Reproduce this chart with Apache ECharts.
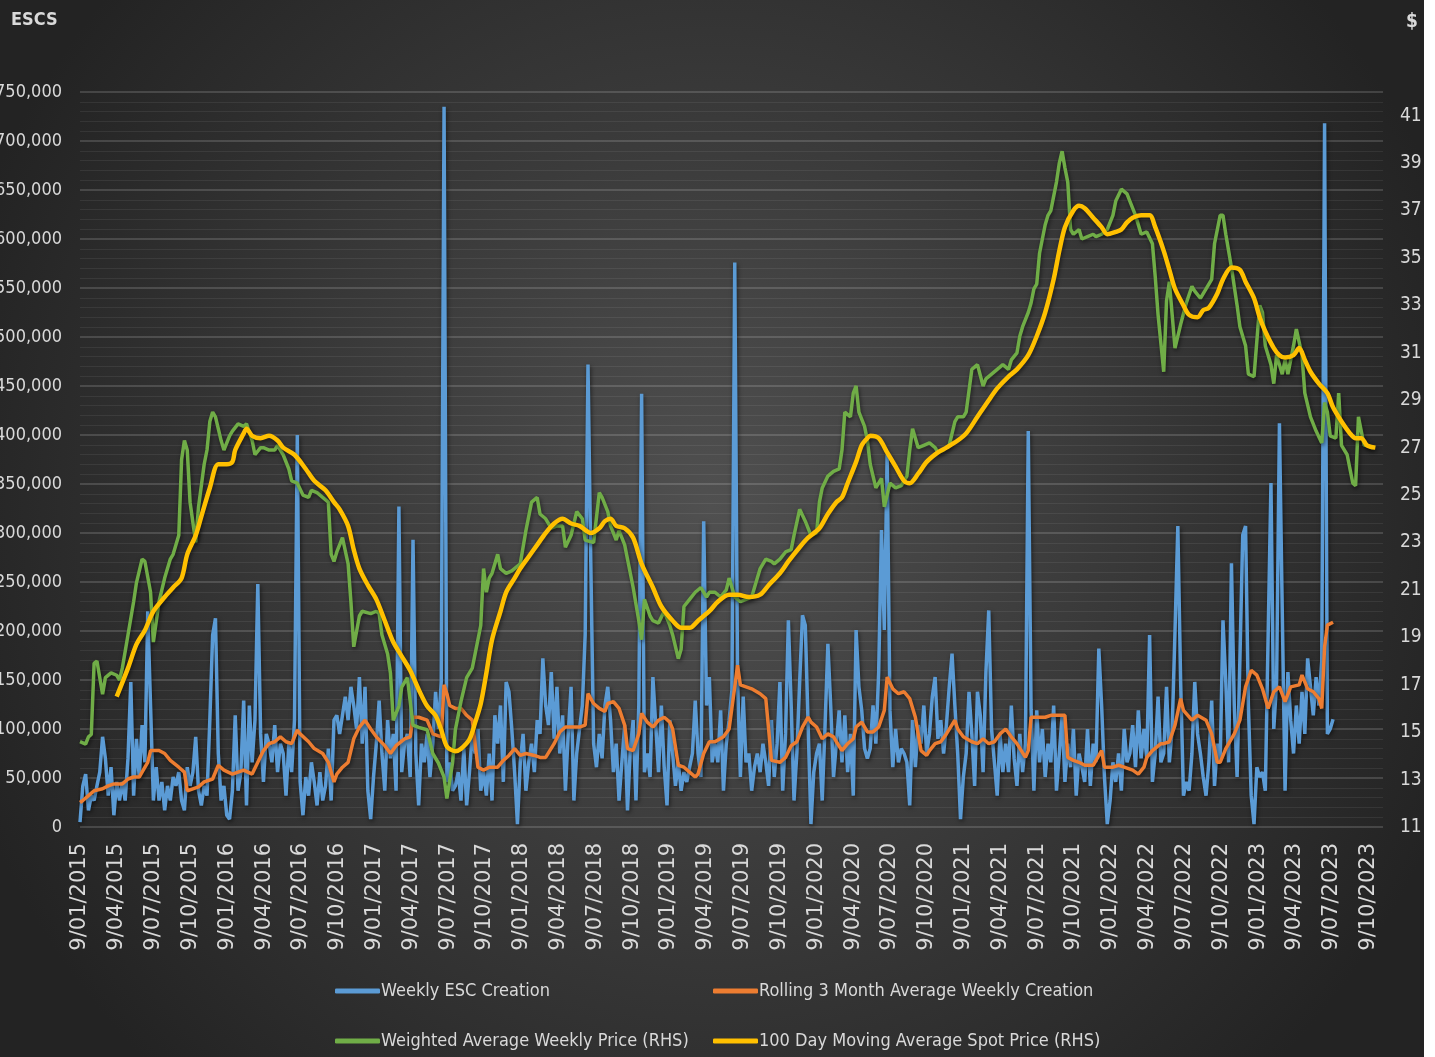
<!DOCTYPE html>
<html>
<head>
<meta charset="UTF-8">
<title>ESC creation and price</title>
<script src="https://cdn.jsdelivr.net/npm/echarts@6/dist/echarts.min.js"></script>
<style type="text/css">
  * {margin: 0; padding: 0;}
  body {background: #ffffff;}
  #chart {width: 1424px; height: 1057px;}
</style>
</head>
<body>
<div id="chart"></div>
<script type="text/javascript">
// week index 0 = 9/01/2015, one step per week
var weeksPerQuarter = 13.0446;

// Weekly ESC Creation, thousands, one value per week from week 0
var weeklyCreation = [
  5,42,54,17,32,27,42,56,92,70, 32,61,12,46,27,46,27,70,148,32,
  90,51,104,66,220,124,27,61,27,46, 17,42,27,51,42,56,27,17,61,42,
  56,92,37,22,42,32,109,196,213,75, 27,42,12,8,37,114,37,56,129,22,
  124,66,109,248,95,46,95,85,66,104, 56,85,75,32,85,56,109,400,46,12,
  51,32,66,46,22,56,27,42,80,27, 109,114,95,114,133,109,143,124,100,153,
  85,143,37,8,51,85,129,75,37,109, 70,95,37,327,56,85,95,51,293,75,
  22,85,66,95,51,85,138,100,148,735, 46,66,37,42,56,27,80,22,56,95,
  75,100,37,56,32,75,27,114,85,124, 46,148,138,100,56,3,66,95,37,66,
  85,56,109,95,172,124,104,158,90,143, 75,114,37,95,143,27,75,100,124,196,
  472,269,85,61,95,70,124,143,109,56, 85,27,66,104,17,80,109,27,124,442,
  56,75,51,153,104,56,124,61,22,109, 75,42,66,37,56,46,61,75,129,75,
  51,312,124,153,66,85,66,119,37,85, 109,140,576,150,51,133,66,75,37,61,
  75,56,85,66,42,109,51,85,148,37, 95,211,124,27,75,148,216,206,104,3,
  56,75,85,27,104,187,124,51,85,119, 66,114,56,95,32,201,143,119,80,70,
  80,124,85,158,303,201,380,119,61,100, 66,80,75,66,22,109,61,104,85,124,
  75,95,133,153,90,109,75,104,143,177, 124,75,8,51,75,138,95,42,138,114,
  56,158,221,100,66,32,95,56,85,56, 124,70,42,95,56,85,404,120,37,119,
  66,100,51,85,66,124,37,75,114,46, 85,61,100,32,75,61,46,100,42,85,
  66,182,124,51,3,27,66,46,75,37, 100,66,75,104,61,119,70,100,70,196,
  46,75,133,66,75,143,66,100,200,307, 148,32,46,37,75,148,95,75,51,32,
  66,129,42,85,66,211,148,66,269,124, 51,172,298,307,124,32,3,61,51,56,
  37,196,351,100,148,412,221,37,158,109, 75,124,85,138,95,172,143,114,153,124,
  170,718,95,100,110
];

// Rolling 3 Month Average Weekly Creation, [week, thousands]
var rollingAvg = [
  [0,25],[1,27],[3,32],[5,37],[8,39],[10,42],[12,44],[15,44],[17,49],[19,51],[21,51],[22,56],[24,66],[25,78],[28,78],
  [30,75],[32,68],[35,61],[37,56],[38,37],[40,39],[42,41],[44,46],[47,49],[49,63],[51,58],[54,54],[56,56],[58,58],
  [61,54],[63,66],[65,78],[67,85],[69,87],[71,92],[73,87],[75,85],[77,99],[78,95],[81,87],[83,80],[86,75],[88,66],
  [90,46],[91,54],[93,61],[95,66],[97,90],[99,102],[101,109],[103,100],[105,92],[108,83],[110,75],[112,83],[115,90],
  [117,92],[118,112],[120,112],[123,109],[125,95],[128,92],[129,145],[130,136],[131,124],[133,121],[135,121],[137,114],
  [139,109],[141,61],[143,58],[145,61],[148,61],[150,68],[152,73],[154,80],[156,73],[158,75],[161,73],[163,71],[165,71],
  [168,85],[170,97],[172,102],[175,102],[177,102],[179,104],[180,136],[182,126],[184,121],[186,118],[187,126],[189,128],
  [191,121],[193,104],[194,80],[196,78],[198,95],[199,116],[201,107],[203,102],[205,109],[207,112],[209,107],[210,100],
  [212,63],[214,61],[216,56],[218,51],[219,54],[221,75],[223,87],[225,87],[228,92],[230,100],[232,143],[233,165],
  [234,145],[236,143],[238,141],[241,136],[243,131],[244,100],[245,68],[248,66],[250,71],[252,83],[254,87],[256,102],
  [258,112],[259,107],[261,102],[263,90],[265,95],[267,92],[268,87],[270,78],[272,85],[274,90],[275,102],[277,107],
  [279,97],[281,97],[283,102],[285,119],[286,153],[288,141],[290,136],[292,138],[294,131],[296,112],[298,78],[300,73],
  [301,78],[303,85],[305,87],[307,95],[310,109],[311,100],[313,92],[316,87],[318,85],[320,90],[322,85],[324,87],
  [326,95],[328,100],[330,92],[332,85],[335,71],[336,78],[337,112],[339,112],[342,112],[344,114],[346,114],[349,114],
  [350,71],[352,68],[354,66],[356,63],[359,63],[362,78],[363,61],[366,61],[368,63],[370,61],[373,58],[375,54],
  [377,61],[378,71],[380,78],[383,85],[384,85],[386,87],[388,104],[390,131],[391,119],[394,109],[396,114],[399,109],
  [401,95],[403,66],[404,66],[406,80],[409,95],[411,109],[413,143],[415,160],[417,155],[419,141],[421,121],[423,138],
  [425,143],[427,128],[429,143],[432,145],[433,155],[435,141],[437,138],[439,131],[440,121],[441,184],[442,206],[444,209]
];

// Weighted Average Weekly Price (RHS), [week, $]
var weightedPrice = [
  [0,14.6],[2,14.5],[3,14.8],[4,14.9],[5,17.9],[6,18.0],[8,16.6],[9,17.3],[11,17.5],[13,17.4],[14,17.2],[15,17.7],
  [17,19.1],[19,20.5],[20,21.3],[22,22.3],[23,22.2],[25,20.9],[26,18.8],[28,20.5],[30,21.5],[32,22.3],[33,22.5],
  [35,23.3],[36,26.5],[37,27.3],[38,26.9],[39,24.7],[41,23.0],[42,24.5],[44,26.3],[45,26.9],[46,28.1],[47,28.5],
  [48,28.3],[50,27.3],[51,26.9],[53,27.5],[54,27.7],[56,28.0],[58,27.9],[59,28.0],[61,27.3],[62,26.7],[64,27.0],
  [65,27.0],[67,26.9],[69,26.9],[70,27.1],[72,26.7],[74,26.1],[75,25.6],[77,25.5],[79,25.0],[81,24.9],[82,25.2],
  [84,25.1],[86,24.9],[88,24.7],[89,22.5],[90,22.2],[91,22.6],[93,23.2],[95,22.1],[96,20.5],[97,18.6],[99,19.9],
  [100,20.1],[103,20.0],[105,20.1],[106,20.0],[107,19.1],[109,18.3],[110,17.5],[111,15.5],[113,16.1],[114,16.9],
  [116,17.3],[118,15.3],[120,15.2],[123,15.1],[125,14.1],[127,13.7],[129,13.1],[130,12.2],[132,13.7],[133,15.1],
  [135,16.3],[137,17.3],[139,17.7],[140,18.3],[142,19.5],[143,21.9],[144,20.9],[145,21.5],[146,21.7],[148,22.5],
  [149,21.9],[151,21.7],[153,21.8],[156,22.1],[158,23.5],[160,24.7],[162,24.9],[163,24.2],[165,24.0],[167,23.6],
  [169,23.7],[171,23.7],[172,22.8],[174,23.3],[176,24.3],[178,24.0],[179,23.1],[182,23.0],[184,25.1],[185,24.9],
  [187,24.3],[188,23.7],[190,23.1],[191,23.5],[193,22.9],[194,22.3],[196,21.1],[198,19.7],[199,18.9],[200,20.6],
  [202,19.9],[203,19.7],[205,19.6],[207,20.1],[209,19.5],[210,19.1],[212,18.1],[213,18.5],[214,20.3],[216,20.6],
  [218,20.9],[220,21.1],[222,20.7],[223,20.9],[225,20.9],[227,20.7],[229,21.0],[230,21.5],[232,20.7],[234,20.5],
  [236,20.6],[238,20.7],[239,21.1],[241,21.9],[243,22.3],[245,22.2],[246,22.1],[248,22.3],[250,22.6],[252,22.7],
  [253,23.3],[255,24.4],[257,23.9],[259,23.3],[261,23.4],[262,24.7],[263,25.3],[265,25.8],[267,26.0],[269,26.1],
  [270,26.9],[271,28.5],[273,28.3],[274,29.3],[275,29.6],[276,28.5],[278,27.9],[279,27.3],[280,26.3],[282,25.3],
  [284,25.7],[285,24.5],[287,25.5],[289,25.3],[291,25.4],[293,25.8],[294,26.9],[295,27.8],[297,27.0],[299,27.1],
  [301,27.2],[303,27.0],[304,26.8],[306,26.9],[308,27.1],[310,28.1],[311,28.3],[313,28.3],[314,28.5],[316,30.3],
  [318,30.5],[320,29.6],[321,29.9],[323,30.1],[325,30.3],[327,30.5],[329,30.3],[330,30.7],[332,31.0],[333,31.7],
  [334,32.1],[336,32.7],[337,33.1],[338,33.7],[339,33.9],[340,35.2],[342,36.4],[343,36.8],[344,37.0],[346,38.2],
  [347,39.0],[348,39.5],[349,38.8],[350,38.2],[351,36.2],[352,36.0],[354,36.2],[355,35.8],[357,35.9],[359,36.0],
  [360,35.9],[362,36.0],[364,36.2],[366,36.8],[367,37.4],[369,37.9],[371,37.7],[372,37.4],[374,36.8],[376,36.0],
  [378,36.1],[380,35.6],[381,34.2],[382,32.6],[384,30.2],[385,33.2],[386,34.0],[387,32.6],[388,31.2],[390,32.2],
  [392,33.1],[394,33.8],[395,33.6],[397,33.3],[399,33.7],[401,34.1],[402,35.6],[404,36.8],[405,36.8],[406,36.0],
  [407,35.3],[408,34.6],[410,33.0],[411,32.1],[413,31.3],[414,30.1],[416,30.0],[418,33.0],[419,32.7],[420,31.3],
  [422,30.5],[423,29.7],[424,30.9],[426,30.1],[427,30.7],[428,30.1],[430,31.3],[431,32.0],[433,30.9],[434,29.3],
  [436,28.3],[438,27.7],[440,27.2],[441,28.9],[442,28.5],[443,27.5],[445,27.4],[446,29.3],[447,27.1],[449,26.7],
  [451,25.5],[452,25.4],[453,28.3],[455,27.1],[456,27.1],[458,27.0]
];

// 100 Day Moving Average Spot Price (RHS), [week, $]
var spotAvg = [
  [13,16.5],[17,17.7],[20,18.7],[23,19.3],[26,20.1],[30,20.7],[33,21.1],[36,21.5],[38,22.5],[41,23.3],[43,24.1],
  [46,25.3],[49,26.3],[52,26.3],[54,26.4],[55,26.9],[58,27.6],[59,27.8],[61,27.5],[64,27.4],[67,27.5],[70,27.3],
  [72,27.0],[76,26.7],[80,26.1],[83,25.6],[87,25.2],[90,24.7],[92,24.4],[95,23.7],[97,22.7],[99,21.9],[102,21.2],
  [105,20.6],[108,19.7],[111,18.8],[114,18.2],[117,17.6],[120,16.8],[123,16.1],[126,15.7],[128,15.1],[130,14.4],
  [133,14.2],[135,14.3],[138,14.7],[140,15.4],[142,16.2],[144,17.5],[146,18.9],[149,20.1],[151,20.9],[154,21.5],
  [156,21.9],[159,22.4],[162,22.9],[165,23.4],[168,23.8],[171,24.0],[174,23.8],[177,23.7],[181,23.4],[184,23.6],
  [186,23.9],[188,24.0],[190,23.7],[193,23.6],[196,23.2],[199,22.1],[203,21.1],[206,20.3],[210,19.7],[213,19.4],
  [216,19.4],[219,19.7],[223,20.1],[226,20.5],[230,20.8],[233,20.8],[237,20.7],[241,20.8],[244,21.2],[248,21.7],
  [251,22.2],[255,22.8],[258,23.2],[262,23.6],[265,24.2],[268,24.7],[270,24.9],[272,25.5],[275,26.4],[277,27.1],
  [279,27.4],[280,27.5],[283,27.4],[286,26.8],[289,26.2],[292,25.6],[294,25.5],[297,25.9],[300,26.4],[304,26.8],
  [307,27.0],[311,27.3],[314,27.6],[318,28.3],[322,29.0],[325,29.5],[329,30.0],[332,30.3],[336,30.9],[339,31.7],
  [342,32.7],[345,34.1],[347,35.3],[349,36.3],[352,37.0],[354,37.2],[356,37.1],[359,36.7],[362,36.3],[364,36.0],
  [367,36.1],[369,36.2],[371,36.5],[373,36.7],[376,36.8],[379,36.8],[381,36.3],[384,35.3],[386,34.5],[388,33.7],
  [391,33.0],[393,32.6],[396,32.5],[398,32.8],[400,32.9],[403,33.5],[405,34.1],[408,34.6],[411,34.5],[413,34.0],
  [416,33.3],[418,32.5],[420,31.9],[423,31.2],[425,30.9],[427,30.8],[430,30.9],[432,31.2],[434,30.7],[436,30.2],
  [439,29.7],[442,29.3],[444,28.7],[447,28.1],[450,27.6],[452,27.4],[454,27.4],[456,27.1],[459,27.0]
];

var rhsMin = 11;   // right axis starts at $11

var labelFont = '"Liberation Sans Narrow", "DejaVu Sans Condensed", "Arial Narrow", sans-serif';
var textColor = '#d9d9d9';

function shiftRhs(pts) {
  return pts.map(function (p) { return [p[0], p[1] - rhsMin]; });
}

function quarterLabel(v) {
  var q = Math.round(v / weeksPerQuarter);
  if (Math.abs(v - q * weeksPerQuarter) > 1) return '';
  var m = (q % 4) * 3 + 1;
  var y = 2015 + Math.floor(q / 4);
  return '9/' + (m < 10 ? '0' + m : m) + '/' + y;
}

function lineStyle(color, width) {
  return {
    color: color, width: width,
    shadowColor: 'rgba(0,0,0,0.55)', shadowBlur: 4, shadowOffsetX: 1, shadowOffsetY: 2
  };
}

function legendAt(name, left, top) {
  return {
    data: [name], left: left, top: top, padding: 0,
    icon: 'roundRect', itemWidth: 45, itemHeight: 5, itemGap: 0,
    textStyle: {color: textColor, fontFamily: labelFont, fontSize: 18, padding: [0, 0, 0, -4]}
  };
}

var chart = echarts.init(document.getElementById('chart'));

var option = {
  animation: false,
  backgroundColor: {
    type: 'radial', x: 0.5, y: 0.48, r: 0.75,
    colorStops: [{offset: 0, color: '#505050'}, {offset: 1, color: '#232323'}]
  },
  title: [
    {text: 'ESCS', left: 6, top: 6, textStyle: {color: textColor, fontFamily: labelFont, fontSize: 18, fontWeight: 'bold'}},
    {text: '$', left: 1401, top: 8, textStyle: {color: textColor, fontFamily: labelFont, fontSize: 19, fontWeight: 'bold'}}
  ],
  legend: [
    legendAt('Weekly ESC Creation', 335, 982),
    legendAt('Rolling 3 Month Average Weekly Creation', 713, 982),
    legendAt('Weighted Average Weekly Price (RHS)', 335, 1032),
    legendAt('100 Day Moving Average Spot Price (RHS)', 713, 1032)
  ],
  grid: {left: 80, right: 41, top: 92, bottom: 230, containLabel: false, outerBoundsMode: 'none'},
  xAxis: {
    type: 'value', min: 0, max: 461.7, interval: weeksPerQuarter,
    axisLine: {show: false}, axisTick: {show: false}, splitLine: {show: false},
    axisLabel: {
      rotate: 90, margin: 16, color: textColor, fontSize: 21,
      fontFamily: '"DejaVu Sans", sans-serif', formatter: quarterLabel
    }
  },
  yAxis: [
    {
      type: 'value', min: 0, max: 750, interval: 50, position: 'left',
      axisLine: {show: false}, axisTick: {show: false},
      axisLabel: {
        margin: 18, color: textColor, fontSize: 18, fontFamily: labelFont,
        formatter: function (v) { return v === 0 ? '0' : v + ',000'; }
      },
      splitLine: {lineStyle: {color: 'rgba(255,255,255,0.2)', width: 1.5}},
      minorTick: {show: false, splitNumber: 5},
      minorSplitLine: {show: true, lineStyle: {color: 'rgba(255,255,255,0.07)'}}
    },
    {
      type: 'value', min: 0, max: 31, interval: 2, position: 'right',
      axisLine: {show: false}, axisTick: {show: false}, splitLine: {show: false},
      axisLabel: {
        margin: 17, color: textColor, fontSize: 19, fontFamily: labelFont,
        formatter: function (v) { return v > 30.5 ? '' : String(v + rhsMin); }
      }
    }
  ],
  series: [
    {
      name: 'Weekly ESC Creation', type: 'line', yAxisIndex: 0, showSymbol: false,
      color: '#5B9BD5', lineStyle: lineStyle('#5B9BD5', 3.5),
      data: weeklyCreation.map(function (v, i) { return [i, v]; })
    },
    {
      name: 'Rolling 3 Month Average Weekly Creation', type: 'line', yAxisIndex: 0, showSymbol: false,
      color: '#ED7D31', lineStyle: lineStyle('#ED7D31', 3.5),
      data: rollingAvg
    },
    {
      name: 'Weighted Average Weekly Price (RHS)', type: 'line', yAxisIndex: 1, showSymbol: false,
      color: '#70AD47', lineStyle: lineStyle('#70AD47', 3.5),
      data: shiftRhs(weightedPrice)
    },
    {
      name: '100 Day Moving Average Spot Price (RHS)', type: 'line', yAxisIndex: 1, showSymbol: false,
      smooth: 0.3, color: '#FFC000', lineStyle: lineStyle('#FFC000', 4.5),
      data: shiftRhs(spotAvg)
    }
  ]
};

chart.setOption(option);
</script>
</body>
</html>
